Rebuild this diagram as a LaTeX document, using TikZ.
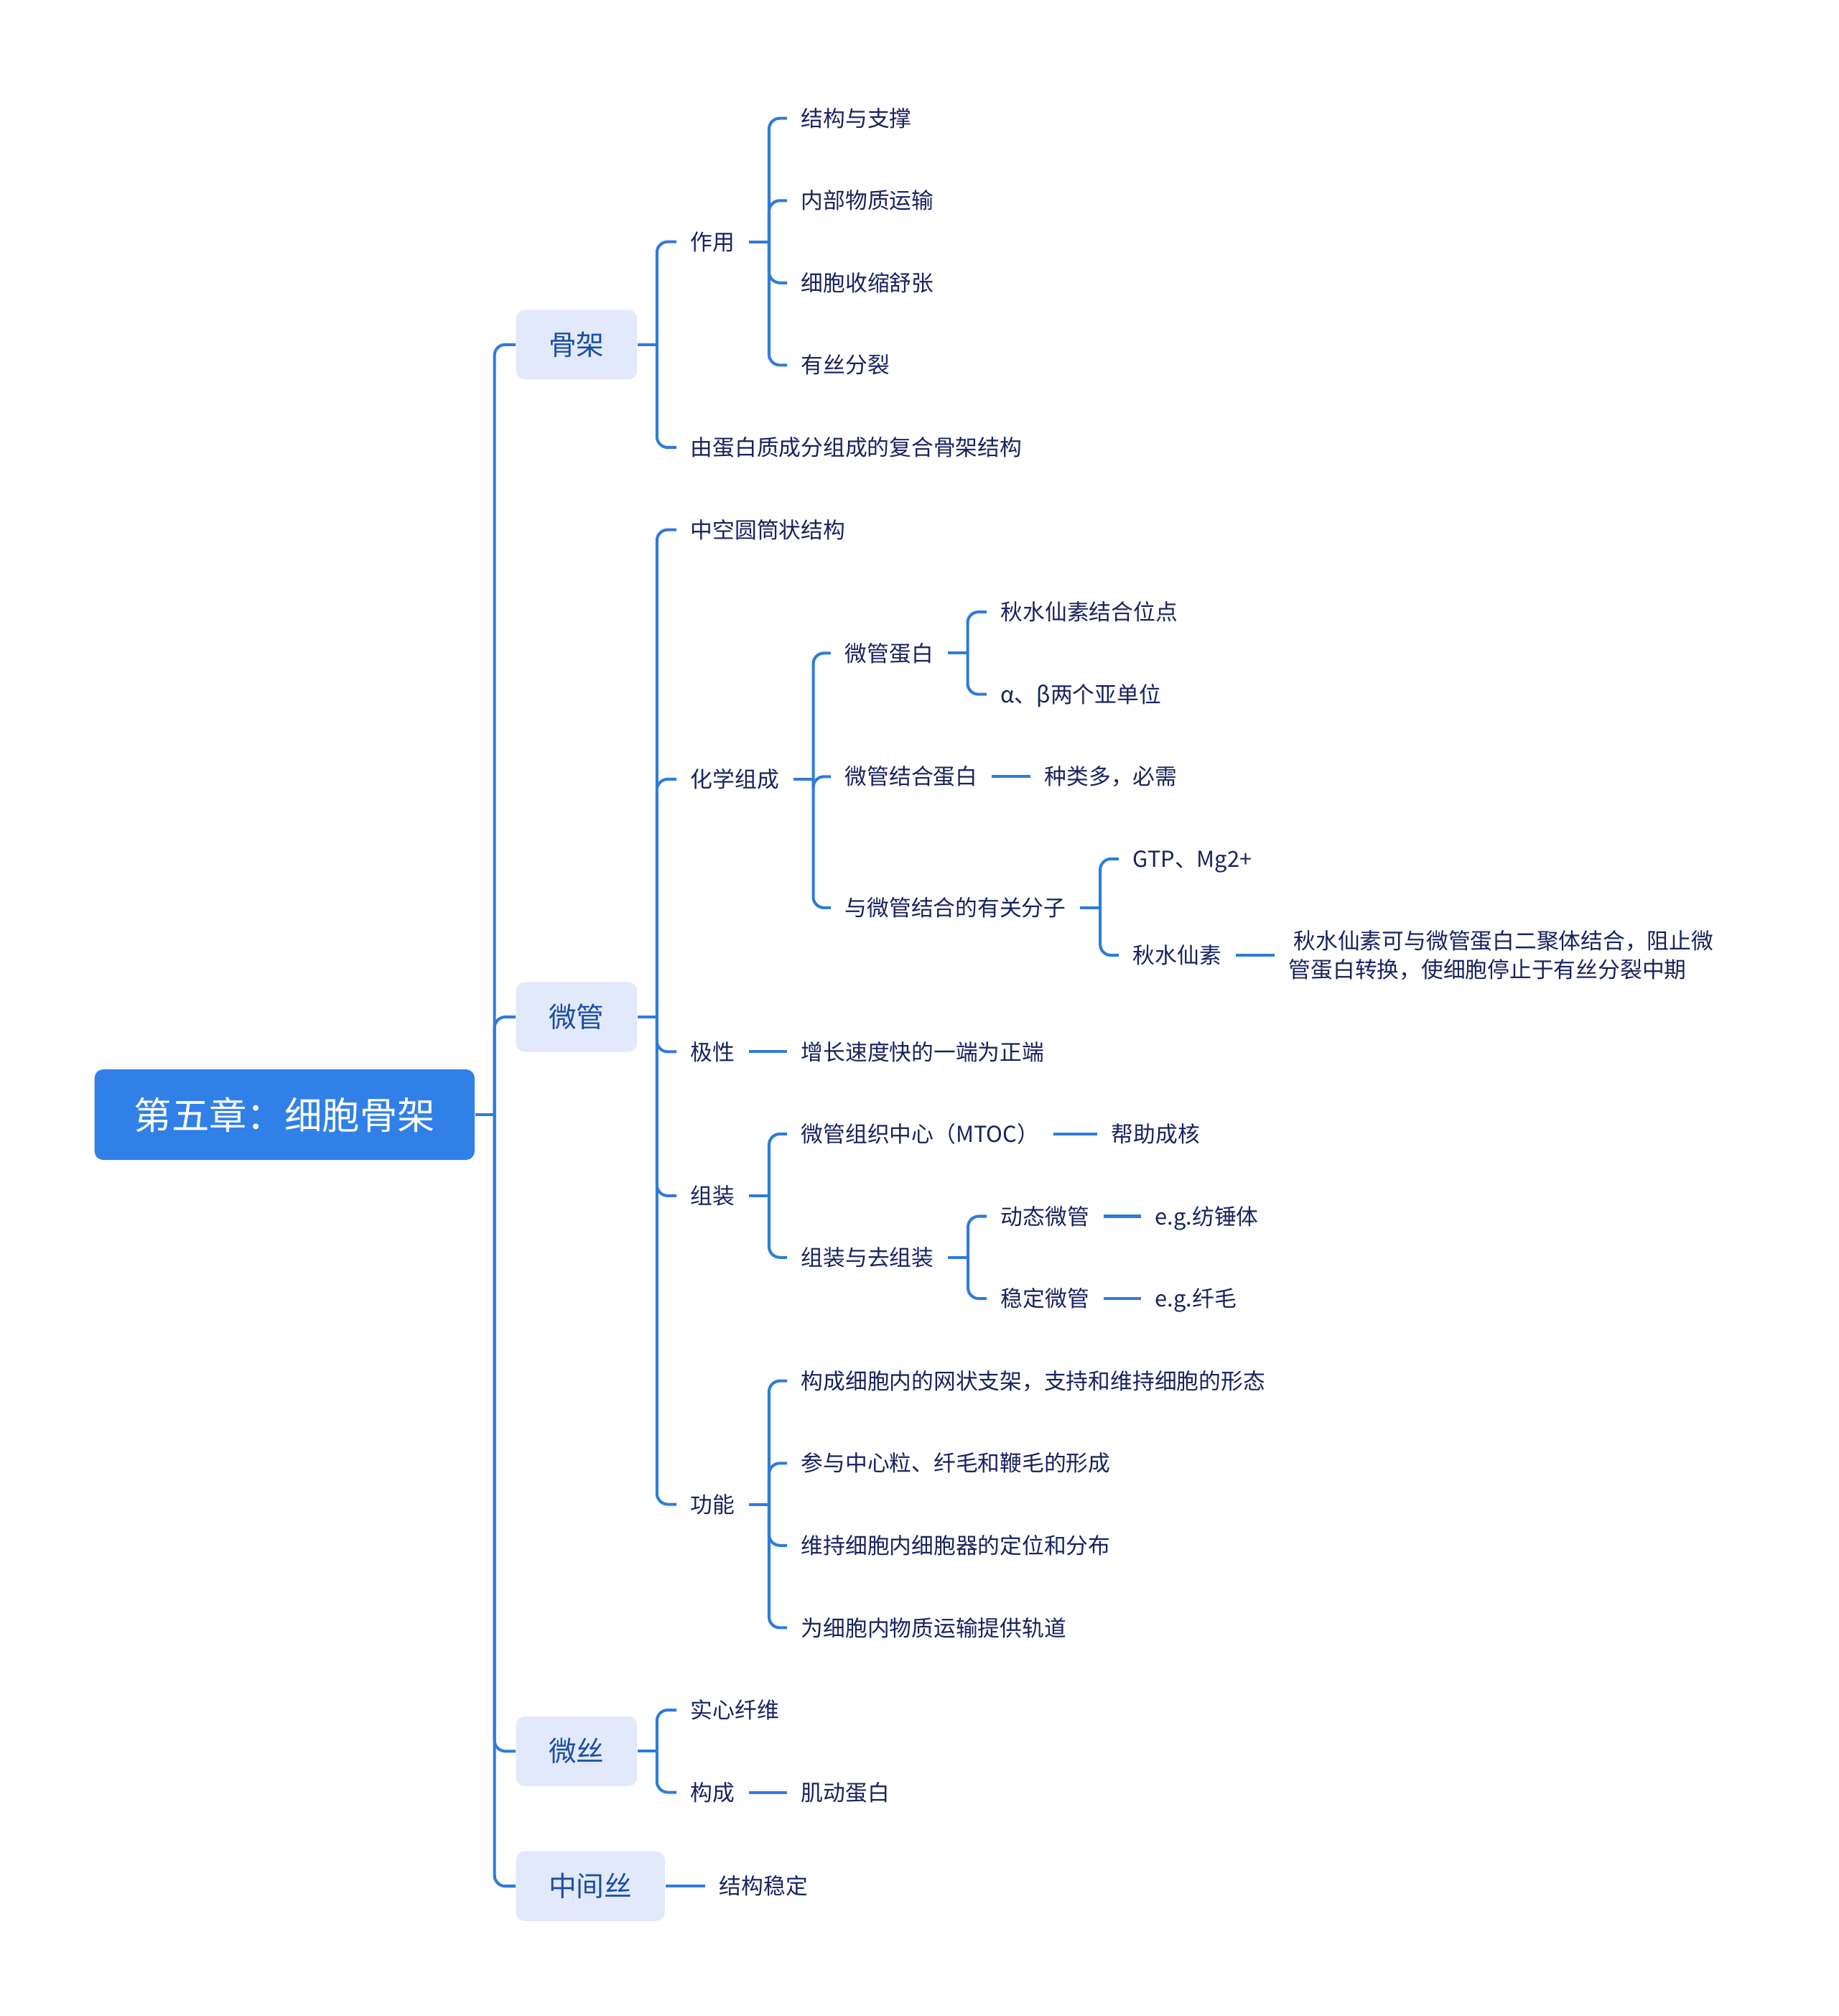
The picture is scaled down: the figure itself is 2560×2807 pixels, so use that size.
\documentclass[tikz,border=0pt]{standalone}
\usepackage{fontspec}
\setmainfont{Noto Sans CJK SC}
\definecolor{linkblue}{HTML}{2F7BDB}
\definecolor{rootblue}{HTML}{3080E8}
\definecolor{topicfill}{HTML}{E1E9FA}
\definecolor{topictext}{HTML}{1B4DA3}
\definecolor{leafnavy}{HTML}{18225E}

\begin{document}
\begin{tikzpicture}[x=0.01cm, y=-0.01cm,
    link/.style={draw=linkblue, line width=1.15pt, rounded corners=0.15cm},
    rootbox/.style={anchor=west, fill=rootblue, text=white, rounded corners=0.12cm,
        minimum height=1.26cm, inner xsep=0.55cm, font=\fontsize{14.9}{18}\selectfont},
    topicbox/.style={anchor=west, fill=topicfill, text=topictext, rounded corners=0.12cm,
        minimum height=0.97cm, inner xsep=0.455cm, font=\fontsize{11}{13}\selectfont},
    leaf/.style={anchor=west, inner xsep=0.19cm, inner ysep=0.05cm, text=leafnavy,
        font=\fontsize{8.75}{11.4}\selectfont, text height=7.2pt, text depth=0.6pt}]
    % Page size
    \useasboundingbox (0,0) rectangle (2560,2807);

    % Central topic
    \node[rootbox] (root) at (131,1552) {第五章：细胞骨架};

    % Main topics
    \node[topicbox] (skel) at (718,479.8) {骨架};
    \node[topicbox] (mt) at (718,1416) {微管};
    \node[topicbox] (mf) at (718,2438.3) {微丝};
    \node[topicbox] (ifil) at (718,2626.2) {中间丝};

    % Skeleton branch
    \node[leaf] (role) at (942,336.6) {作用};
    \node[leaf] (role1) at (1096,164.7) {结构与支撑};
    \node[leaf] (role2) at (1096,279.3) {内部物质运输};
    \node[leaf] (role3) at (1096,393.8) {细胞收缩舒张};
    \node[leaf] (role4) at (1096,508.4) {有丝分裂};
    \node[leaf] (compo) at (942,623.0) {由蛋白质成分组成的复合骨架结构};

    % Microtubule branch
    \node[leaf] (hollow) at (942,737.6) {中空圆筒状结构};
    \node[leaf] (chem) at (942,1084.9) {化学组成};
    \node[leaf] (tub) at (1157,909.4) {微管蛋白};
    \node[leaf] (tub1) at (1374,852.1) {秋水仙素结合位点};
    \node[leaf] (tub2) at (1374,966.7) {α、β两个亚单位};
    \node[leaf] (map) at (1157,1081.3) {微管结合蛋白};
    \node[leaf] (map1) at (1435,1081.3) {种类多，必需};
    \node[leaf] (mol) at (1157,1263.9) {与微管结合的有关分子};
    \node[leaf] (mol1) at (1558,1195.9) {GTP、Mg2+};
    \node[leaf] (mol2) at (1558,1330.1) {秋水仙素};
    \node[anchor=west, inner xsep=0.19cm, text=leafnavy, align=left,
        font=\fontsize{8.75}{11.4}\selectfont] (colch) at (1775,1330.1)
        {\ 秋水仙素可与微管蛋白二聚体结合，阻止微\\管蛋白转换，使细胞停止于有丝分裂中期};
    \node[leaf] (polar) at (942,1464.4) {极性};
    \node[leaf] (polar1) at (1096,1464.4) {增长速度快的一端为正端};
    \node[leaf] (asm) at (942,1664.9) {组装};
    \node[leaf] (mtoc) at (1096,1578.9) {微管组织中心（MTOC）};
    \node[leaf] (mtoc1) at (1528,1578.9) {帮助成核};
    \node[leaf] (asm2) at (1096,1750.8) {组装与去组装};
    \node[leaf] (dyn) at (1374,1693.5) {动态微管};
    \node[leaf] (dyn1) at (1589,1693.5) {e.g.纺锤体};
    \node[leaf] (stab) at (1374,1808.1) {稳定微管};
    \node[leaf] (stab1) at (1589,1808.1) {e.g.纤毛};
    \node[leaf] (func) at (942,2094.5) {功能};
    \node[leaf] (func1) at (1096,1922.7) {构成细胞内的网状支架，支持和维持细胞的形态};
    \node[leaf] (func2) at (1096,2037.3) {参与中心粒、纤毛和鞭毛的形成};
    \node[leaf] (func3) at (1096,2151.8) {维持细胞内细胞器的定位和分布};
    \node[leaf] (func4) at (1096,2266.4) {为细胞内物质运输提供轨道};

    % Microfilament branch
    \node[leaf] (solid) at (942,2381.0) {实心纤维};
    \node[leaf] (mfc) at (942,2495.5) {构成};
    \node[leaf] (actin) at (1096,2495.5) {肌动蛋白};

    % Intermediate filament branch
    \node[leaf] (ifil1) at (982,2626.2) {结构稳定};

    % Trunk from the central topic
    \draw[link] (root.east) -- ++(27,0) coordinate (trunk);
    \foreach \t in {skel,mt,mf,ifil}
        \draw[link] (trunk) |- (\t.west);

    % Forks with several children
    \draw[link] (skel.east) -- ++(27,0) coordinate (skelJ);
    \foreach \c in {role,compo} \draw[link] (skelJ) |- (\c.west);
    \draw[link] (role.east) -- ++(28,0) coordinate (roleJ);
    \foreach \c in {role1,role2,role3,role4} \draw[link] (roleJ) |- (\c.west);
    \draw[link] (mt.east) -- ++(27,0) coordinate (mtJ);
    \foreach \c in {hollow,chem,polar,asm,func} \draw[link] (mtJ) |- (\c.west);
    \draw[link] (chem.east) -- ++(28,0) coordinate (chemJ);
    \foreach \c in {tub,map,mol} \draw[link] (chemJ) |- (\c.west);
    \draw[link] (tub.east) -- ++(28,0) coordinate (tubJ);
    \foreach \c in {tub1,tub2} \draw[link] (tubJ) |- (\c.west);
    \draw[link] (mol.east) -- ++(28,0) coordinate (molJ);
    \foreach \c in {mol1,mol2} \draw[link] (molJ) |- (\c.west);
    \draw[link] (asm.east) -- ++(28,0) coordinate (asmJ);
    \foreach \c in {mtoc,asm2} \draw[link] (asmJ) |- (\c.west);
    \draw[link] (asm2.east) -- ++(28,0) coordinate (asm2J);
    \foreach \c in {dyn,stab} \draw[link] (asm2J) |- (\c.west);
    \draw[link] (func.east) -- ++(28,0) coordinate (funcJ);
    \foreach \c in {func1,func2,func3,func4} \draw[link] (funcJ) |- (\c.west);
    \draw[link] (mf.east) -- ++(27,0) coordinate (mfJ);
    \foreach \c in {solid,mfc} \draw[link] (mfJ) |- (\c.west);

    % Single links
    \draw[link] (map.east) -- (map1.west);
    \draw[link] (mol2.east) -- (colch.west);
    \draw[link] (polar.east) -- (polar1.west);
    \draw[link] (mtoc.east) -- (mtoc1.west);
    \draw[link] (dyn.east) -- (dyn1.west);
    \draw[link] (stab.east) -- (stab1.west);
    \draw[link] (mfc.east) -- (actin.west);
    \draw[link] (ifil.east) -- (ifil1.west);
\end{tikzpicture}
\end{document}
